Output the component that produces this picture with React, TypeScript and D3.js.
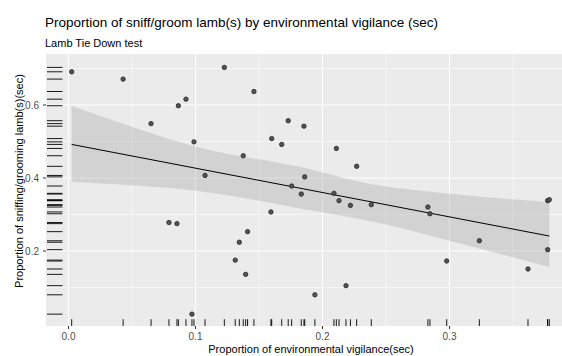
import React, { useRef, useEffect } from "react";
import * as d3 from "d3";

// proportion of environmental vigilance (sec) per lamb
const vigilance = [
  0.0025, 0.043, 0.0865, 0.0925, 0.065, 0.0988, 0.1075, 0.1227, 0.146, 0.173,
  0.1854, 0.16, 0.1679, 0.2109, 0.1376, 0.2269, 0.186, 0.1757, 0.1833, 0.209,
  0.213, 0.222, 0.2384, 0.1594, 0.141, 0.1345, 0.1313, 0.1395, 0.2185, 0.194,
  0.0791, 0.0854, 0.0972, 0.283, 0.2846, 0.3235, 0.2978, 0.3618, 0.3773, 0.3786,
  0.3773,
];
// proportion of sniffing / grooming lamb(s) (sec)
const sniffGroom = [
  0.691, 0.671, 0.598, 0.616, 0.549, 0.499, 0.407, 0.703, 0.637, 0.557,
  0.542, 0.508, 0.492, 0.481, 0.461, 0.432, 0.403, 0.378, 0.356, 0.358,
  0.338, 0.325, 0.327, 0.307, 0.253, 0.224, 0.175, 0.136, 0.105, 0.08,
  0.278, 0.275, 0.027, 0.3205, 0.302, 0.228, 0.1726, 0.1507, 0.338, 0.3406,
  0.2036,
];

// lm smoother
const fitX = [0.0025, 0.3786];
const fitY = [0.492, 0.241];
const bandX = [0.0025, 0.05, 0.1035, 0.18, 0.24, 0.3, 0.3786];
const bandHi = [0.597, 0.54, 0.483, 0.432, 0.382, 0.357, 0.334];
const bandLo = [0.39, 0.38, 0.364, 0.318, 0.28, 0.228, 0.156];

const xTicks = [0, 0.1, 0.2, 0.3];
const xMinor = [0.05, 0.15, 0.25, 0.35];
const yTicks = [0.2, 0.4, 0.6];
const yMinor = [0.1, 0.3, 0.5, 0.7];

const title = "Proportion of sniff/groom lamb(s) by environmental vigilance (sec)";
const subtitle = "Lamb Tie Down test";
const xTitle = "Proportion of environmental vigilance(sec)";
const yTitle = "Proportion of sniffing/grooming lamb(s)(sec)";

const W = 562;
const H = 356;
const panel = { left: 46, top: 54, right: 562, bottom: 326 };
const font = "'Liberation Sans', Arial, sans-serif";

const App: React.FC = () => {
  const svgRef = useRef<SVGSVGElement | null>(null);

  useEffect(() => {
    const root = d3.select(svgRef.current);
    root.selectAll("*").remove();
    const svg = root.attr("width", W).attr("height", H);

    const x = d3.scaleLinear().domain([0, 0.3]).range([68.5, 449.5]);
    const y = d3.scaleLinear().domain([0.2, 0.6]).range([251, 105]);

    const data = vigilance.map((v, i) => ({ x: v, y: sniffGroom[i] }));
    const band = bandX.map((v, i) => ({ x: v, lo: bandLo[i], hi: bandHi[i] }));
    const fit = fitX.map((v, i) => ({ x: v, y: fitY[i] }));

    const clipId = "panel-clip";
    svg
      .append("defs")
      .append("clipPath")
      .attr("id", clipId)
      .append("rect")
      .attr("x", panel.left)
      .attr("y", panel.top)
      .attr("width", panel.right - panel.left)
      .attr("height", panel.bottom - panel.top);

    const g = svg.append("g").attr("clip-path", `url(#${clipId})`);

    g.append("rect")
      .attr("x", panel.left)
      .attr("y", panel.top)
      .attr("width", panel.right - panel.left)
      .attr("height", panel.bottom - panel.top)
      .attr("fill", "#EBEBEB");

    // grid
    const vGrid = (vals: number[], w: number) =>
      g
        .append("g")
        .selectAll("line")
        .data(vals)
        .enter()
        .append("line")
        .attr("x1", (d) => x(d))
        .attr("x2", (d) => x(d))
        .attr("y1", panel.top)
        .attr("y2", panel.bottom)
        .attr("stroke", "#fff")
        .attr("stroke-width", w);
    const hGrid = (vals: number[], w: number) =>
      g
        .append("g")
        .selectAll("line")
        .data(vals)
        .enter()
        .append("line")
        .attr("x1", panel.left)
        .attr("x2", panel.right)
        .attr("y1", (d) => y(d))
        .attr("y2", (d) => y(d))
        .attr("stroke", "#fff")
        .attr("stroke-width", w);
    vGrid(xMinor, 0.55);
    hGrid(yMinor, 0.55);
    vGrid(xTicks, 1.1);
    hGrid(yTicks, 1.1);

    // confidence ribbon
    g.append("path")
      .datum(band)
      .attr(
        "d",
        d3
          .area<{ x: number; lo: number; hi: number }>()
          .curve(d3.curveMonotoneX)
          .x((d) => x(d.x))
          .y0((d) => y(d.lo))
          .y1((d) => y(d.hi))
      )
      .attr("fill", "#999")
      .attr("fill-opacity", 0.3);

    g.append("path")
      .datum(fit)
      .attr(
        "d",
        d3
          .line<{ x: number; y: number }>()
          .x((d) => x(d.x))
          .y((d) => y(d.y))
      )
      .attr("fill", "none")
      .attr("stroke", "#000")
      .attr("stroke-width", 1);

    // points
    g.append("g")
      .selectAll("circle")
      .data(data)
      .enter()
      .append("circle")
      .attr("cx", (d) => x(d.x))
      .attr("cy", (d) => y(d.y))
      .attr("r", 2.2)
      .attr("fill", "#555")
      .attr("stroke", "#222")
      .attr("stroke-width", 0.8);

    // rugs
    const rugX = (panel.bottom - panel.top) * 0.025;
    const rugY = (panel.right - panel.left) * 0.03;
    g.append("g")
      .selectAll("line")
      .data(data)
      .enter()
      .append("line")
      .attr("x1", (d) => x(d.x))
      .attr("x2", (d) => x(d.x))
      .attr("y1", panel.bottom)
      .attr("y2", panel.bottom - rugX)
      .attr("stroke", "#000")
      .attr("stroke-width", 0.9);
    g.append("g")
      .selectAll("line")
      .data(data)
      .enter()
      .append("line")
      .attr("x1", panel.left + 1)
      .attr("x2", panel.left + 1 + rugY)
      .attr("y1", (d) => y(d.y))
      .attr("y2", (d) => y(d.y))
      .attr("stroke", "#000")
      .attr("stroke-width", 0.9);

    // axes
    svg
      .append("g")
      .selectAll("line")
      .data(xTicks)
      .enter()
      .append("line")
      .attr("x1", (d) => x(d))
      .attr("x2", (d) => x(d))
      .attr("y1", panel.bottom)
      .attr("y2", panel.bottom + 3)
      .attr("stroke", "#333");
    svg
      .append("g")
      .selectAll("text")
      .data(xTicks)
      .enter()
      .append("text")
      .attr("x", (d) => x(d))
      .attr("y", 340)
      .attr("text-anchor", "middle")
      .style("font-family", font)
      .style("font-size", "10px")
      .attr("fill", "#4D4D4D")
      .text((d) => d3.format(".1f")(d));
    svg
      .append("g")
      .selectAll("line")
      .data(yTicks)
      .enter()
      .append("line")
      .attr("x1", panel.left - 3)
      .attr("x2", panel.left)
      .attr("y1", (d) => y(d))
      .attr("y2", (d) => y(d))
      .attr("stroke", "#333");
    svg
      .append("g")
      .selectAll("text")
      .data(yTicks)
      .enter()
      .append("text")
      .attr("x", panel.left - 7)
      .attr("y", (d) => y(d))
      .attr("dy", "0.35em")
      .attr("text-anchor", "end")
      .style("font-family", font)
      .style("font-size", "10px")
      .attr("fill", "#4D4D4D")
      .text((d) => d3.format(".1f")(d));

    // titles
    svg
      .append("text")
      .attr("x", 311)
      .attr("y", 353)
      .attr("text-anchor", "middle")
      .style("font-family", font)
      .style("font-size", "11px")
      .attr("fill", "#000")
      .text(xTitle);
    svg
      .append("text")
      .attr("transform", "translate(23,181) rotate(-90)")
      .attr("text-anchor", "middle")
      .style("font-family", font)
      .style("font-size", "11px")
      .attr("fill", "#000")
      .text(yTitle);
    svg
      .append("text")
      .attr("x", 45)
      .attr("y", 27)
      .style("font-family", font)
      .style("font-size", "13.5px")
      .attr("fill", "#000")
      .text(title);
    svg
      .append("text")
      .attr("x", 45)
      .attr("y", 46.5)
      .style("font-family", font)
      .style("font-size", "11px")
      .attr("fill", "#000")
      .text(subtitle);
  }, []);

  return (
    <svg
      ref={svgRef}
      style={{ position: "absolute", left: 0, top: 0, display: "block", background: "#fff" }}
    ></svg>
  );
};

export default App;
